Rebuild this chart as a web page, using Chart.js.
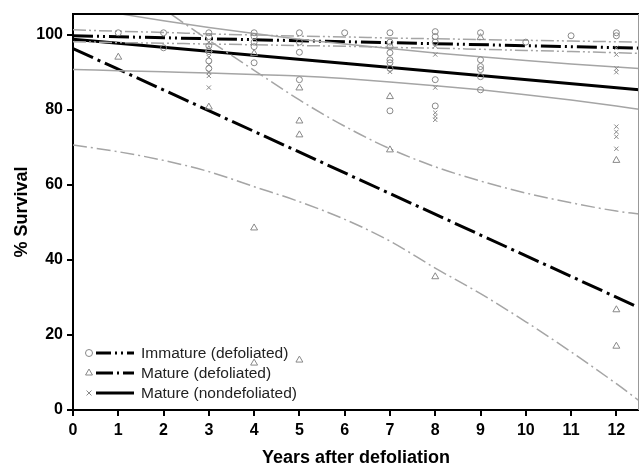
<!DOCTYPE html>
<html>
<head>
<meta charset="utf-8">
<script src="https://cdn.jsdelivr.net/npm/chart.js@4.4.0/dist/chart.umd.min.js"></script>
<style>
    html, body { margin: 0; padding: 0; background: #fff; }
    #wrap { width: 639px; height: 471px; }
</style>
</head>
<body>
<div id="wrap"><canvas id="chart" width="639" height="471"></canvas></div>
<script>
// Axis ticks
const xTicks = [0, 1, 2, 3, 4, 5, 6, 7, 8, 9, 10, 11, 12];
const yTicks = [0, 20, 40, 60, 80, 100];

// Fitted survival lines (end points, years after defoliation)
const fitYears = [0, 12.5];
const immatureFit = [99.7, 96.4];
const matureDefFit = [96.3, 27.3];
const matureNonFit = [98.8, 85.3];

// Confidence bands, read at each year
const bandYears = [0, 1, 2, 3, 4, 5, 6, 7, 8, 9, 10, 11, 12, 12.5];
const immatureUpper = [101.3, 100.9, 100.6, 100.2, 99.9, 99.6, 99.4, 99.1, 98.9, 98.7, 98.5, 98.3, 98.1, 98.0];
const immatureLower = [98.1, 97.9, 97.7, 97.5, 97.3, 97.1, 96.9, 96.6, 96.4, 96.1, 95.8, 95.5, 95.2, 95.0];
const matureDefUpper = [123.5, 115, 106.8, 98.5, 90.5, 82.6, 75.6, 69.6, 64.8, 61, 57.8, 55.2, 53, 52.2];
const matureDefLower = [70.6, 68.8, 66.5, 63.5, 59.5, 55.5, 50.8, 45, 37.8, 31, 23.5, 15.5, 7, 2.5];
const matureNonUpper = [107.6, 105.6, 103.7, 101.9, 100.3, 98.8, 97.5, 96.3, 95.1, 94.1, 93.1, 92.2, 91.4, 91.0];
const matureNonLower = [90.7, 90.4, 90.1, 89.8, 89.4, 89.0, 88.3, 87.4, 86.4, 85.3, 84.0, 82.6, 81.0, 80.1];

// Observed plots (% survival)
const immatureYears = [1, 2, 2, 3, 3, 3, 3, 3, 3, 4, 4, 4, 4, 4, 5, 5, 5, 5, 6, 7, 7, 7, 7, 7, 7, 7, 7, 8, 8, 8, 8, 8, 9, 9, 9, 9, 9, 9, 10, 11, 12, 12];
const immatureSurv = [100.5, 100.5, 96.5, 100.5, 99.5, 97, 95.5, 93, 91, 100.5, 99.5, 98, 96.8, 92.5, 100.5, 98, 95.3, 88, 100.5, 100.5, 98, 96.8, 95.2, 93.3, 92.5, 91, 79.7, 100.8, 99.5, 98, 88, 81, 100.5, 93.3, 91.5, 90.7, 88.8, 85.3, 98, 99.7, 100.5, 99.7];
const matureDefYears = [1, 3, 3, 4, 4, 4, 5, 5, 5, 5, 7, 7, 8, 9, 12, 12, 12];
const matureDefSurv = [94, 96, 80.7, 95, 48.5, 12.5, 85.8, 77, 73.3, 13.3, 83.5, 69.3, 35.5, 99.2, 66.5, 26.7, 17];
const matureNonYears = [3, 3, 3, 3, 3, 3, 7, 8, 8, 8, 8, 8, 8, 12, 12, 12, 12, 12, 12, 12, 12];
const matureNonSurv = [98, 94, 92, 90, 89, 85.9, 90.1, 97, 94.7, 85.9, 79.2, 78.2, 77.3, 96.5, 94.7, 91, 90, 75.5, 74.1, 72.8, 69.6];

const legendLabels = ['Immature (defoliated)', 'Mature (defoliated)', 'Mature (nondefoliated)'];

const DASH_DOT_DOT = [20, 4, 2, 4, 2, 4];
const DASH_DOT = [22, 5, 3, 5];
const THIN_DASH_DOT_DOT = [13, 3, 2, 3, 2, 3];
const THIN_DASH_DOT = [14, 4, 2, 4];
const BAND_GREY = '#a5a5a5';
const POINT_GREY = '#888888';

Chart.defaults.font.family = '"Liberation Sans", Arial, Helvetica, sans-serif';

function toPoints(xs, ys) {
    return xs.map((x, i) => ({ x: x, y: ys[i] }));
}

function lineSet(xs, ys, color, width, dash) {
    return {
        data: toPoints(xs, ys),
        showLine: true,
        borderColor: color,
        borderWidth: width,
        borderDash: dash,
        pointRadius: 0,
        fill: false,
        cubicInterpolationMode: 'monotone',
        order: 2
    };
}

function pointSet(xs, ys, style, radius) {
    return {
        data: toPoints(xs, ys),
        showLine: false,
        pointStyle: style,
        pointRadius: radius,
        pointBorderColor: POINT_GREY,
        pointBackgroundColor: 'rgba(255,255,255,0)',
        pointBorderWidth: 1,
        order: 1
    };
}

// Box lines on top and right of the plot
const framePlugin = {
    id: 'frame',
    afterDraw(chart) {
        const { ctx, chartArea: a } = chart;
        ctx.save();
        ctx.strokeStyle = '#000';
        ctx.lineWidth = 2;
        ctx.beginPath();
        ctx.moveTo(a.left, a.top);
        ctx.lineTo(a.right, a.top);
        ctx.stroke();
        ctx.strokeStyle = '#999';
        ctx.lineWidth = 1;
        ctx.beginPath();
        ctx.moveTo(a.right - 0.5, a.top);
        ctx.lineTo(a.right - 0.5, a.bottom);
        ctx.stroke();
        ctx.restore();
    }
};

// Legend: marker + line sample + label, inside the plot
const legendPlugin = {
    id: 'innerLegend',
    afterDraw(chart) {
        const { ctx, chartArea: a } = chart;
        const rows = [
            { style: 'circle', radius: 3.5, dash: [15, 4, 2, 4, 2, 4], offset: 57 },
            { style: 'triangle', radius: 4, dash: [17, 4, 2, 4], offset: 37 },
            { style: 'crossRot', radius: 3.5, dash: [], offset: 17 }
        ];
        ctx.save();
        rows.forEach((r, i) => {
            const y = a.bottom - r.offset;
            ctx.strokeStyle = POINT_GREY;
            ctx.fillStyle = 'rgba(255,255,255,0)';
            ctx.lineWidth = 1;
            Chart.helpers.drawPoint(ctx, { pointStyle: r.style, radius: r.radius, borderWidth: 1 }, a.left + 16, y);
            ctx.strokeStyle = '#000';
            ctx.lineWidth = 3;
            ctx.setLineDash(r.dash);
            ctx.beginPath();
            ctx.moveTo(a.left + 23, y);
            ctx.lineTo(a.left + 61, y);
            ctx.stroke();
            ctx.setLineDash([]);
            ctx.fillStyle = '#222';
            ctx.font = '15.5px "Liberation Sans", Arial, sans-serif';
            ctx.textBaseline = 'middle';
            ctx.fillText(legendLabels[i], a.left + 68, y + 1);
        });
        ctx.restore();
    }
};

new Chart(document.getElementById('chart'), {
    type: 'scatter',
    data: {
        datasets: [
            lineSet(bandYears, immatureUpper, BAND_GREY, 1.5, THIN_DASH_DOT_DOT),
            lineSet(bandYears, immatureLower, BAND_GREY, 1.5, THIN_DASH_DOT_DOT),
            lineSet(bandYears, matureDefUpper, BAND_GREY, 1.5, THIN_DASH_DOT),
            lineSet(bandYears, matureDefLower, BAND_GREY, 1.5, THIN_DASH_DOT),
            lineSet(bandYears, matureNonUpper, BAND_GREY, 1.5, []),
            lineSet(bandYears, matureNonLower, BAND_GREY, 1.5, []),
            lineSet(fitYears, matureNonFit, '#000', 3, []),
            lineSet(fitYears, matureDefFit, '#000', 3, DASH_DOT),
            lineSet(fitYears, immatureFit, '#000', 3, DASH_DOT_DOT),
            pointSet(immatureYears, immatureSurv, 'circle', 3),
            pointSet(matureDefYears, matureDefSurv, 'triangle', 4),
            pointSet(matureNonYears, matureNonSurv, 'crossRot', 3)
        ]
    },
    options: {
        responsive: false,
        animation: false,
        layout: {
            autoPadding: false,
            padding: { top: 14, right: 0, left: 0, bottom: 0 }
        },
        plugins: {
            legend: { display: false },
            tooltip: { enabled: false }
        },
        scales: {
            x: {
                type: 'linear',
                min: 0,
                max: 12.5,
                afterBuildTicks: s => { s.ticks = xTicks.map(v => ({ value: v })); },
                afterFit: s => {
                    s.height = 61;
                    // no extra room needed for the edge labels
                    s.paddingLeft = 0;
                    s.paddingRight = 0;
                },
                ticks: {
                    autoSkip: false,
                    maxRotation: 0,
                    padding: 5,
                    color: '#000',
                    font: { size: 16, weight: 'bold' }
                },
                grid: { drawOnChartArea: false, drawTicks: true, tickLength: 6, color: '#000', lineWidth: 2 },
                border: { display: true, color: '#000', width: 2 },
                title: {
                    display: true,
                    text: 'Years after defoliation',
                    color: '#000',
                    font: { size: 18, weight: 'bold' },
                    padding: { top: 0, bottom: 2 }
                }
            },
            y: {
                min: 0,
                max: 105.5,
                afterBuildTicks: s => { s.ticks = yTicks.map(v => ({ value: v })); },
                afterFit: s => {
                    s.width = 73;
                    s.paddingTop = 0;
                    s.paddingBottom = 0;
                },
                ticks: {
                    padding: 4,
                    color: '#000',
                    font: { size: 16, weight: 'bold' }
                },
                grid: { drawOnChartArea: false, drawTicks: true, tickLength: 6, color: '#000', lineWidth: 2 },
                border: { display: true, color: '#000', width: 2 },
                title: {
                    display: true,
                    text: '% Survival',
                    color: '#000',
                    font: { size: 18, weight: 'bold' },
                    padding: { top: 11, bottom: 0 }
                }
            }
        }
    },
    plugins: [framePlugin, legendPlugin]
});
</script>
</body>
</html>
